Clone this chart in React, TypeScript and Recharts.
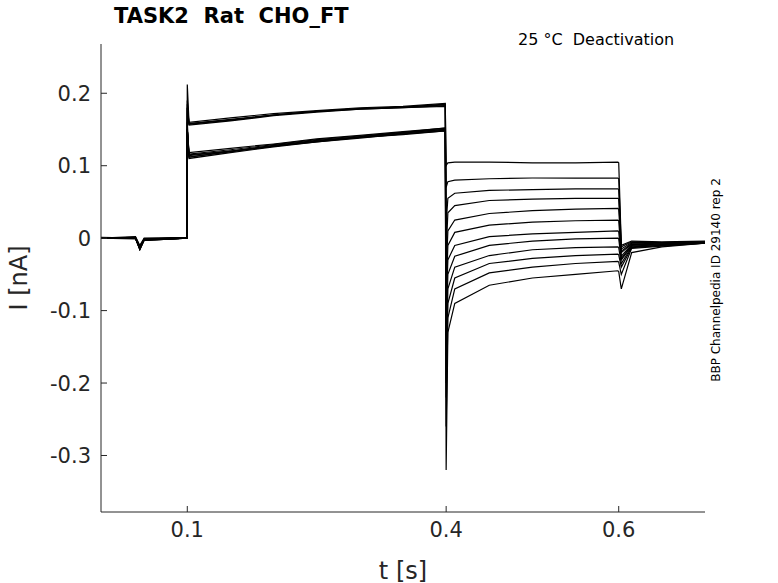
import { LineChart, Line, XAxis, YAxis, Label } from 'recharts'

const times = [0, 0.04, 0.045, 0.05, 0.0995, 0.1, 0.102, 0.15, 0.2, 0.25, 0.3, 0.35, 0.399, 0.4, 0.402, 0.41, 0.45, 0.5, 0.55, 0.599, 0.6, 0.603, 0.615, 0.65, 0.7]

const sweep1 = [0, 0, -0.012, -0.002, 0, 0.212, 0.16, 0.166, 0.172, 0.176, 0.18, 0.182, 0.186, 0.1, 0.104, 0.105, 0.105, 0.104, 0.104, 0.105, 0.104, -0.01, -0.004, -0.005, -0.004]
const sweep2 = [0, 0.002, -0.01, 0, 0.001, 0.19, 0.158, 0.164, 0.17, 0.175, 0.179, 0.181, 0.184, 0.07, 0.078, 0.08, 0.082, 0.083, 0.083, 0.083, 0.082, -0.012, -0.005, -0.006, -0.005]
const sweep3 = [0, 0, -0.014, -0.003, 0, 0.16, 0.115, 0.12, 0.128, 0.135, 0.14, 0.146, 0.15, 0.02, 0.055, 0.062, 0.066, 0.067, 0.068, 0.068, 0.067, -0.015, -0.006, -0.006, -0.006]
const sweep4 = [0.001, 0, -0.012, -0.001, 0, 0.185, 0.157, 0.163, 0.17, 0.175, 0.178, 0.18, 0.183, -0.02, 0.035, 0.045, 0.052, 0.054, 0.055, 0.055, 0.054, -0.018, -0.007, -0.006, -0.005]
const sweep5 = [0, -0.001, -0.015, -0.002, 0, 0.15, 0.112, 0.12, 0.127, 0.133, 0.139, 0.143, 0.148, -0.05, 0.01, 0.025, 0.034, 0.038, 0.04, 0.041, 0.04, -0.02, -0.008, -0.007, -0.006]
const sweep6 = [0, 0, -0.013, -0.002, 0.001, 0.15, 0.118, 0.124, 0.13, 0.137, 0.142, 0.147, 0.152, -0.08, -0.01, 0.008, 0.018, 0.022, 0.024, 0.025, 0.024, -0.025, -0.009, -0.008, -0.006]
const sweep7 = [0, 0.001, -0.012, -0.001, 0, 0.18, 0.156, 0.162, 0.169, 0.174, 0.178, 0.18, 0.182, -0.1, -0.03, -0.01, 0.002, 0.006, 0.008, 0.01, 0.009, -0.028, -0.01, -0.008, -0.006]
const sweep8 = [0, 0, -0.016, -0.003, 0, 0.15, 0.11, 0.118, 0.126, 0.133, 0.138, 0.144, 0.148, -0.14, -0.05, -0.025, -0.01, -0.004, -0.001, 0, -0.001, -0.03, -0.011, -0.009, -0.007]
const sweep9 = [0, 0, -0.014, -0.002, 0, 0.15, 0.114, 0.12, 0.127, 0.134, 0.14, 0.145, 0.15, -0.2, -0.07, -0.04, -0.024, -0.016, -0.013, -0.012, -0.013, -0.035, -0.012, -0.01, -0.007]
const sweep10 = [0, 0.001, -0.012, -0.002, 0, 0.18, 0.158, 0.163, 0.17, 0.175, 0.179, 0.181, 0.185, -0.22, -0.09, -0.055, -0.035, -0.028, -0.024, -0.022, -0.023, -0.04, -0.013, -0.01, -0.006]
const sweep11 = [0, 0, -0.015, -0.003, 0, 0.15, 0.116, 0.122, 0.129, 0.136, 0.141, 0.146, 0.152, -0.26, -0.11, -0.07, -0.048, -0.04, -0.035, -0.032, -0.033, -0.05, -0.014, -0.011, -0.007]
const sweep12 = [0, 0, -0.016, -0.002, 0, 0.15, 0.112, 0.119, 0.127, 0.134, 0.139, 0.144, 0.149, -0.32, -0.13, -0.09, -0.065, -0.055, -0.05, -0.045, -0.046, -0.07, -0.02, -0.012, -0.007]

const sweeps = [sweep1, sweep2, sweep3, sweep4, sweep5, sweep6, sweep7, sweep8, sweep9, sweep10, sweep11, sweep12]
const xTicks = [0.1, 0.4, 0.6]
const yTicks = [-0.3, -0.2, -0.1, 0, 0.1, 0.2]

const data = times.map((t, i) => {
  const row: Record<string, number> = { t }
  sweeps.forEach((s, k) => { row['s' + k] = s[i] })
  return row
})

const font = 'DejaVu Sans, sans-serif'

export default function App() {
  return (
    <div style={{ position: 'absolute', left: 0, top: 0, width: 778, height: 583, background: '#fff', fontFamily: font }}>
      <div style={{ position: 'absolute', left: 114, top: 4, fontSize: 21, fontWeight: 'bold' }}>TASK2&nbsp;&nbsp;Rat&nbsp;&nbsp;CHO_FT</div>
      <div style={{ position: 'absolute', left: 518, top: 30, fontSize: 16 }}>25 °C&nbsp;&nbsp;Deactivation</div>
      <div style={{ position: 'absolute', left: 716, top: 280, fontSize: 12, transform: 'translate(-50%,-50%) rotate(-90deg)', whiteSpace: 'nowrap' }}>BBP Channelpedia ID 29140 rep 2</div>
      <LineChart width={778} height={583} data={data} margin={{ top: 44, right: 73, bottom: 0, left: 0 }}>
        <XAxis dataKey="t" type="number" domain={[0, 0.7]} ticks={xTicks} tickFormatter={v => String(v)}
          tick={{ fontSize: 21, fill: '#262626', fontFamily: font }} stroke="#262626" tickSize={-6} tickMargin={16} height={71}>
          <Label value="t [s]" position="insideBottom" offset={4} style={{ fontSize: 24, fill: '#262626', fontFamily: font }} />
        </XAxis>
        <YAxis type="number" domain={[-0.378, 0.268]} ticks={yTicks} tickFormatter={v => String(v)}
          tick={{ fontSize: 21, fill: '#262626', fontFamily: font }} stroke="#262626" tickSize={-6} tickMargin={16} width={101}>
          <Label value="I [nA]" angle={-90} position="insideLeft" offset={18} style={{ fontSize: 24, fill: '#262626', fontFamily: font, textAnchor: 'middle' }} />
        </YAxis>
        {sweeps.map((_, k) => (
          <Line key={k} dataKey={'s' + k} type="linear" stroke="#000" strokeWidth={1.2} dot={false} isAnimationActive={false} />
        ))}
      </LineChart>
    </div>
  )
}
